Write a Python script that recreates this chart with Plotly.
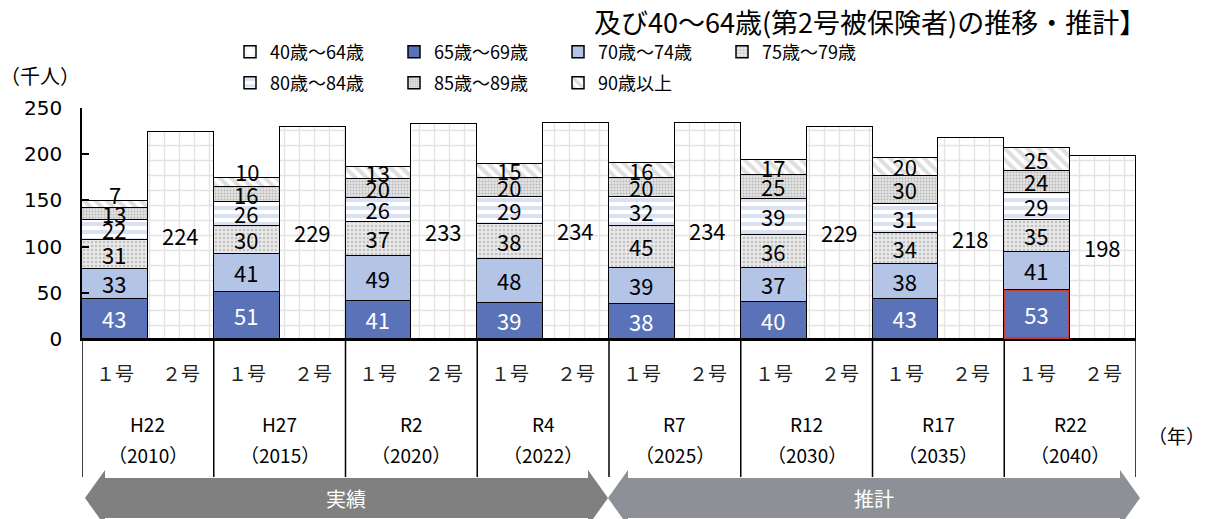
import plotly.graph_objects as go

# ---------------- data ----------------
eras = ["H22", "H27", "R2", "R4", "R7", "R12", "R17", "R22"]
years = ["（2010）", "（2015）", "（2020）", "（2022）", "（2025）", "（2030）", "（2035）", "（2040）"]
sub_labels = ["１号", "２号"]

age_65_69 = [43, 51, 41, 39, 38, 40, 43, 53]
age_70_74 = [33, 41, 49, 48, 39, 37, 38, 41]
age_75_79 = [31, 30, 37, 38, 45, 36, 34, 35]
age_80_84 = [22, 26, 26, 29, 32, 39, 31, 29]
age_85_89 = [13, 16, 20, 20, 20, 25, 30, 24]
age_90_up = [7, 10, 13, 15, 16, 17, 20, 25]
age_40_64 = [224, 229, 233, 234, 234, 229, 218, 198]

y_ticks = [0, 50, 100, 150, 200, 250]

# ---------------- layout helpers ----------------
W, H = 1205, 519
PL, PR, PT, PB = 82, 1136, 108, 339   # plot area in pixels


def px_x(x):
    return (x - PL) / (PR - PL)


def px_y(y):
    return (PB - y) / (PB - PT)


FONT = "Noto Sans CJK JP, Noto Sans, sans-serif"
NUMFONT = "Liberation Sans Narrow, Noto Sans CJK JP, sans-serif"

n = len(eras)
x1 = [2 * i for i in range(n)]       # 1号 bars
x2 = [2 * i + 1 for i in range(n)]   # 2号 bars

fig = go.Figure()

series = [
    ("65歳～69歳", age_65_69, dict(color="#5A73B8"), "white", "legend", 2),
    ("70歳～74歳", age_70_74, dict(color="#B3C4E7"), "black", "legend", 3),
    ("75歳～79歳", age_75_79, dict(color="#e4e4e4", pattern=dict(shape=".", fgcolor="#9a9a9a", bgcolor="#e9e9e9", size=4, solidity=0.35)), "black", "legend", 4),
    ("80歳～84歳", age_80_84, dict(color="white", pattern=dict(shape="-", fgcolor="#B3C3E7", bgcolor="white", size=8, solidity=0.5)), "black", "legend2", 5),
    ("85歳～89歳", age_85_89, dict(color="#dddddd", pattern=dict(shape=".", fgcolor="#8a8a8a", bgcolor="#e6e6e6", size=3, solidity=0.4)), "black", "legend2", 6),
    ("90歳以上", age_90_up, dict(color="white", pattern=dict(shape="\\", fgcolor="#bdbdbd", bgcolor="white", size=8, solidity=0.5)), "black", "legend2", 7),
]

highlight = "R22"
for name, vals, mk, tcol, leg, rank in series:
    line_col = ["black"] * n
    line_w = [1.5] * n
    if name == "65歳～69歳":
        k = eras.index(highlight)
        line_col[k] = "#D0392E"
        line_w[k] = 3
    texts = [str(v) if v >= 12 or name != "90歳以上" else "" for v in vals]
    marker = dict(mk)
    marker["line"] = dict(color=line_col, width=line_w)
    fig.add_trace(go.Bar(
        x=x1, y=vals, name=name, marker=marker,
        text=texts, textposition="inside", insidetextanchor="middle", textangle=0,
        textfont=dict(family=NUMFONT, size=22, color=tcol),
        legend=leg, legendrank=rank, width=1.0,
        hoverinfo="skip",
    ))

fig.add_trace(go.Bar(
    x=x2, y=age_40_64, name="40歳～64歳",
    marker=dict(color="white",
                pattern=dict(shape="+", fgcolor="#c8c8c8", bgcolor="white", size=15, solidity=0.17),
                line=dict(color="black", width=1.5)),
    text=[str(v) for v in age_40_64], textposition="inside", insidetextanchor="middle", textangle=0,
    textfont=dict(family=NUMFONT, size=22, color="black"),
    legend="legend", legendrank=1, width=1.0, hoverinfo="skip",
))


def ann(x, y, text, size=19, color="black", xref="paper", yref="paper", xanchor="center", family=FONT):
    return dict(x=x, y=y, xref=xref, yref=yref, text=text, showarrow=False,
                xanchor=xanchor, yanchor="middle", font=dict(family=family, size=size, color=color))


annotations = []
# small top labels placed just above the stack
totals = [sum(s) for s in zip(age_65_69, age_70_74, age_75_79, age_80_84, age_85_89, age_90_up)]
for i, v in enumerate(age_90_up):
    if v < 12:
        annotations.append(ann(x1[i], totals[i] + 8, str(v), size=22, xref="x", yref="y", family=NUMFONT))

# category labels below the axis
for i in range(n):
    annotations.append(ann(x1[i], px_y(372), sub_labels[0], xref="x", color="#222"))
    annotations.append(ann(x2[i], px_y(372), sub_labels[1], xref="x", color="#222"))
    annotations.append(ann(x1[i] + 0.5, px_y(424), eras[i], xref="x"))
    annotations.append(ann(x1[i] + 0.5, px_y(455), years[i], xref="x"))

annotations += [
    ann(px_x(1176), px_y(435), "（年）"),
    ann(px_x(40), px_y(75), "（千人）", size=20),
    ann(px_x(1148), px_y(21), "及び40～64歳(第2号被保険者)の推移・推計】", size=27, xanchor="right"),
    ann(px_x(346), px_y(498), "実績", size=20, color="white"),
    ann(px_x(874), px_y(498), "推計", size=20, color="white"),
]

shapes = []
# group dividers in the label area
for k in range(n + 1):
    shapes.append(dict(type="line", xref="x", yref="paper", x0=2 * k - 0.5, x1=2 * k - 0.5,
                       y0=0, y1=px_y(477), line=dict(color="black", width=1.5)))


def arrow_path(xl, xr, head=20, yc=498, body=20, flare=28):
    pts = [(xl, yc), (xl + head, yc - flare), (xl + head, yc - body), (xr - head, yc - body),
           (xr - head, yc - flare), (xr, yc), (xr - head, yc + flare), (xr - head, yc + body),
           (xl + head, yc + body), (xl + head, yc + flare)]
    return "M " + " L ".join(f"{px_x(a):.5f},{px_y(b):.5f}" for a, b in pts) + " Z"


shapes.append(dict(type="path", xref="paper", yref="paper", path=arrow_path(85, 608),
                   fillcolor="#808080", line=dict(width=0), layer="above"))
shapes.append(dict(type="path", xref="paper", yref="paper", path=arrow_path(608, 1140),
                   fillcolor="#8D9097", line=dict(width=0), layer="above"))

fig.update_layout(
    width=W, height=H,
    margin=dict(l=PL, r=W - PR, t=PT, b=H - PB, pad=0),
    barmode="stack", bargap=0,
    plot_bgcolor="white", paper_bgcolor="white",
    font=dict(family=FONT, size=18, color="black"),
    uniformtext=dict(minsize=22, mode="show"),
    showlegend=True,
    legend=dict(orientation="h", x=px_x(230), y=px_y(52), xanchor="left", yanchor="middle",
                traceorder="normal", font=dict(family=FONT, size=18), entrywidth=119,
                entrywidthmode="pixels", bgcolor="rgba(0,0,0,0)", itemclick=False),
    legend2=dict(orientation="h", x=px_x(230), y=px_y(83), xanchor="left", yanchor="middle",
                 traceorder="normal", font=dict(family=FONT, size=18), entrywidth=119,
                 entrywidthmode="pixels", bgcolor="rgba(0,0,0,0)", itemclick=False),
    xaxis=dict(range=[-0.5, 2 * n - 0.5], showticklabels=False, ticks="", showgrid=False,
               zeroline=False, showline=True, linecolor="black", linewidth=1.5, fixedrange=True),
    yaxis=dict(range=[0, 250], tickvals=y_ticks, ticks="inside", ticklen=7, tickcolor="black",
               tickwidth=1.5, showgrid=False, zeroline=False, showline=True, linecolor="black",
               linewidth=1.5, tickfont=dict(family="DejaVu Sans, sans-serif", size=20),
               ticklabelstandoff=14, fixedrange=True),
    annotations=annotations,
    shapes=shapes,
)

fig.write_html("out.html")
